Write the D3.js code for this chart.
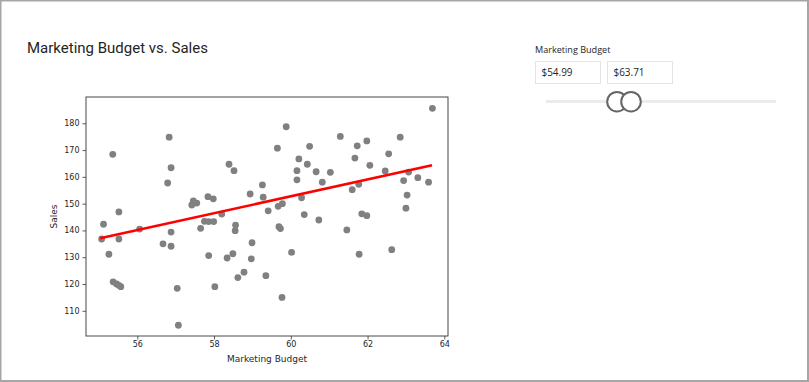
<!DOCTYPE html>
<html>
<head>
<meta charset="utf-8">
<script src="https://cdn.jsdelivr.net/npm/d3@7"></script>
<style>
  html, body { margin: 0; padding: 0; background: #fff; }
  svg { display: block; }
</style>
</head>
<body>
<svg id="chart" width="809" height="382"></svg>
<script>
// ---- data ----
const budget = [55.07, 55.12, 55.26, 55.36, 55.37, 55.46, 55.52, 55.57, 55.52, 55.52,
  56.06, 56.67, 56.79, 56.83, 56.88, 56.88, 56.88, 57.04, 57.07, 57.42,
  57.46, 57.55, 57.65, 57.75, 57.86, 57.99, 57.84, 57.98, 57.86, 58.02,
  58.20, 58.34, 58.39, 58.49, 58.52, 58.56, 58.55, 58.62, 58.78, 58.94,
  58.99, 58.97, 59.26, 59.28, 59.35, 59.41, 59.65, 59.67, 59.78, 59.69,
  59.73, 59.77, 59.88, 60.02, 60.16, 60.16, 60.21, 60.28, 60.35, 60.43,
  60.49, 60.66, 60.73, 60.82, 61.03, 61.29, 61.46, 61.60, 61.67, 61.73,
  61.77, 61.78, 61.85, 61.98, 61.98, 62.06, 62.46, 62.55, 62.63, 62.85,
  62.94, 63.00, 63.03, 63.07, 63.31, 63.59, 63.69];
const sales = [136.8, 142.3, 131.1, 168.4, 120.8, 120.0, 119.5, 119.0, 146.9, 136.8,
  140.5, 135.0, 157.7, 174.8, 163.4, 139.4, 134.1, 118.4, 104.6, 149.5,
  151.0, 150.2, 140.8, 143.4, 143.3, 143.3, 152.6, 151.8, 130.6, 119.0,
  146.1, 129.7, 164.7, 131.3, 162.3, 142.0, 139.9, 122.4, 124.4, 153.6,
  135.4, 129.4, 157.0, 152.4, 123.1, 147.3, 170.7, 149.0, 150.0, 141.4,
  140.7, 115.0, 178.7, 131.8, 162.3, 158.9, 166.7, 152.2, 145.9, 164.7,
  171.4, 161.9, 143.9, 158.0, 161.7, 175.1, 140.2, 155.2, 167.0, 171.6,
  157.2, 131.1, 146.2, 145.5, 173.4, 164.3, 162.2, 168.6, 132.8, 174.8,
  158.6, 148.3, 153.2, 161.8, 159.7, 158.0, 185.6];
const trendBudget = [55.03, 63.68];
const trendSales = [137.1, 164.3];
const xTicks = [56, 58, 60, 62, 64];
const yTicks = [110, 120, 130, 140, 150, 160, 170, 180];
const sliderValues = ["$54.99", "$63.71"];
const titleText = "Marketing Budget vs. Sales";
const xLabel = "Marketing Budget";
const yLabel = "Sales";
const sliderLabel = "Marketing Budget";

// ---- drawing ----
const svg = d3.select("#chart");

// outer frame
svg.append("rect").attr("x", 0.5).attr("y", 0.5).attr("width", 807.5).attr("height", 380.5)
  .attr("fill", "#fff").attr("stroke", "#a6a6a6").attr("stroke-width", 2);

function fitWidth(sel, target) {
  const w = sel.node().getComputedTextLength();
  const fs = +sel.attr("font-size");
  if (w > 0) sel.attr("font-size", (fs * target / w).toFixed(2));
}

// title
const title = svg.append("text").attr("x", 27).attr("y", 53.3)
  .attr("font-family", "Roboto, 'Open Sans', sans-serif").attr("font-size", 15)
  .attr("fill", "#252423").text(titleText);
fitWidth(title, 181);

// plot
const pL = 86, pR = 448, pT = 97, pB = 336;
const x = d3.scaleLinear().domain([54.663, 64.096]).range([pL, pR]);
const y = d3.scaleLinear().domain([100.59, 189.81]).range([pB, pT]);

const g = svg.append("g");

const xAxis = d3.axisBottom(x).tickValues(xTicks).tickSize(3.5).tickPadding(2).tickFormat(d3.format("d"));
const yAxis = d3.axisLeft(y).tickValues(yTicks).tickSize(3.5).tickPadding(3).tickFormat(d3.format("d"));

const gx = g.append("g").attr("transform", `translate(0,${pB})`).call(xAxis);
const gy = g.append("g").attr("transform", `translate(${pL},0)`).call(yAxis);
[gx, gy].forEach(a => {
  a.select(".domain").remove();
  a.selectAll("line").attr("stroke", "#333").attr("stroke-width", 0.8);
  a.selectAll("text").attr("font-family", "'DejaVu Sans', sans-serif").attr("font-size", 8)
    .attr("fill", "#262626");
});

// points
g.append("g").selectAll("circle").data(budget.map((b, i) => [b, sales[i]])).join("circle")
  .attr("cx", d => x(d[0])).attr("cy", d => y(d[1])).attr("r", 3.4)
  .attr("fill", "#808080");

// trend line
g.append("path").datum(trendBudget.map((b, i) => [b, trendSales[i]]))
  .attr("d", d3.line().x(d => x(d[0])).y(d => y(d[1])))
  .attr("stroke", "#ff0000").attr("stroke-width", 2.6).attr("fill", "none");

// spines
g.append("rect").attr("x", pL).attr("y", pT).attr("width", pR - pL).attr("height", pB - pT)
  .attr("fill", "none").attr("stroke", "#333").attr("stroke-width", 0.9);

// axis labels
g.append("text").attr("x", (pL + pR) / 2).attr("y", 361.5).attr("text-anchor", "middle")
  .attr("font-family", "'DejaVu Sans', sans-serif").attr("font-size", 9).attr("fill", "#262626").text(xLabel);
g.append("text").attr("transform", `translate(56.5,${(pT + pB) / 2}) rotate(-90)`)
  .attr("text-anchor", "middle")
  .attr("font-family", "'DejaVu Sans', sans-serif").attr("font-size", 9).attr("fill", "#262626").text(yLabel);

// slicer
const sl = svg.append("g");
const sLabel = sl.append("text").attr("x", 535).attr("y", 52.5)
  .attr("font-family", "'Open Sans', Roboto, sans-serif").attr("font-size", 9)
  .attr("fill", "#252423").text(sliderLabel);
fitWidth(sLabel, 75.5);

const boxX = [535, 607];
sliderValues.forEach((v, i) => {
  sl.append("rect").attr("x", boxX[i] + 0.5).attr("y", 61.5).attr("width", 65).attr("height", 22)
    .attr("fill", "#fff").attr("stroke", "#e4e4e4").attr("stroke-width", 1);
  const t = sl.append("text").attr("x", boxX[i] + 6.5).attr("y", 76)
    .attr("font-family", "'Open Sans', Roboto, sans-serif").attr("font-size", 11)
    .attr("fill", "#252423").text(v);
  fitWidth(t, 31);
});

sl.append("line").attr("x1", 546).attr("x2", 776).attr("y1", 101.5).attr("y2", 101.5)
  .attr("stroke", "#ebebeb").attr("stroke-width", 3);
[617, 631].forEach(cx => {
  sl.append("circle").attr("cx", cx).attr("cy", 101.7).attr("r", 9.8)
    .attr("fill", "#fff").attr("stroke", "#666").attr("stroke-width", 2);
});
</script>
</body>
</html>
